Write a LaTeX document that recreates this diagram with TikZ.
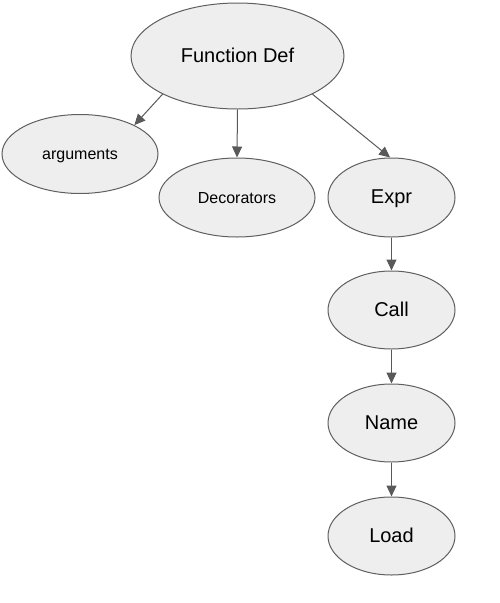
\documentclass[tikz,border=0pt]{standalone}
\usepackage{fontspec}
\setmainfont{Liberation Sans}
\usetikzlibrary{arrows.meta,shapes.geometric}
\definecolor{nodefill}{HTML}{EEEEEE}
\definecolor{nodeline}{HTML}{5F5F5F}
\definecolor{arrowc}{HTML}{595959}
\begin{document}
\begin{tikzpicture}[x=1pt,y=-1pt,
  ell/.style={ellipse,draw=nodeline,fill=nodefill,line width=1pt,inner sep=0pt,text depth=0pt},
  big/.style={ell,font=\fontsize{20}{24}\selectfont,text height=12.6pt},
  small/.style={ell,font=\fontsize{16}{19}\selectfont,text height=11.2pt},
  conn/.style={draw=arrowc,line width=1pt,-{Triangle[length=11pt,width=10pt]}}]
\useasboundingbox (0,0) rectangle (499,603);
\node[big,minimum width=213pt,minimum height=106pt] (fd) at (237.5,56) {Function Def};
\node[small,minimum width=156pt,minimum height=79pt] (args) at (80,154) {arguments};
\node[small,minimum width=156pt,minimum height=79pt] (dec) at (237,197.5) {Decorators};
\node[big,minimum width=127pt,minimum height=79pt] (expr) at (391.5,197.5) {Expr};
\node[big,minimum width=127pt,minimum height=78pt] (call) at (391.5,310) {Call};
\node[big,minimum width=127pt,minimum height=78pt,text height=13.5pt] (name) at (391.5,423) {Name};
\node[big,minimum width=127pt,minimum height=78pt,text height=13.5pt] (load) at (391.5,536) {Load};
\draw[conn] (fd.207) -- (args.28);
\draw[conn] (fd.south) -- (dec.north);
\draw[conn] (fd.333) -- (expr.92);
\draw[conn] (expr.south) -- (call.north);
\draw[conn] (call.south) -- (name.north);
\draw[conn] (name.south) -- (load.north);
\end{tikzpicture}
\end{document}
